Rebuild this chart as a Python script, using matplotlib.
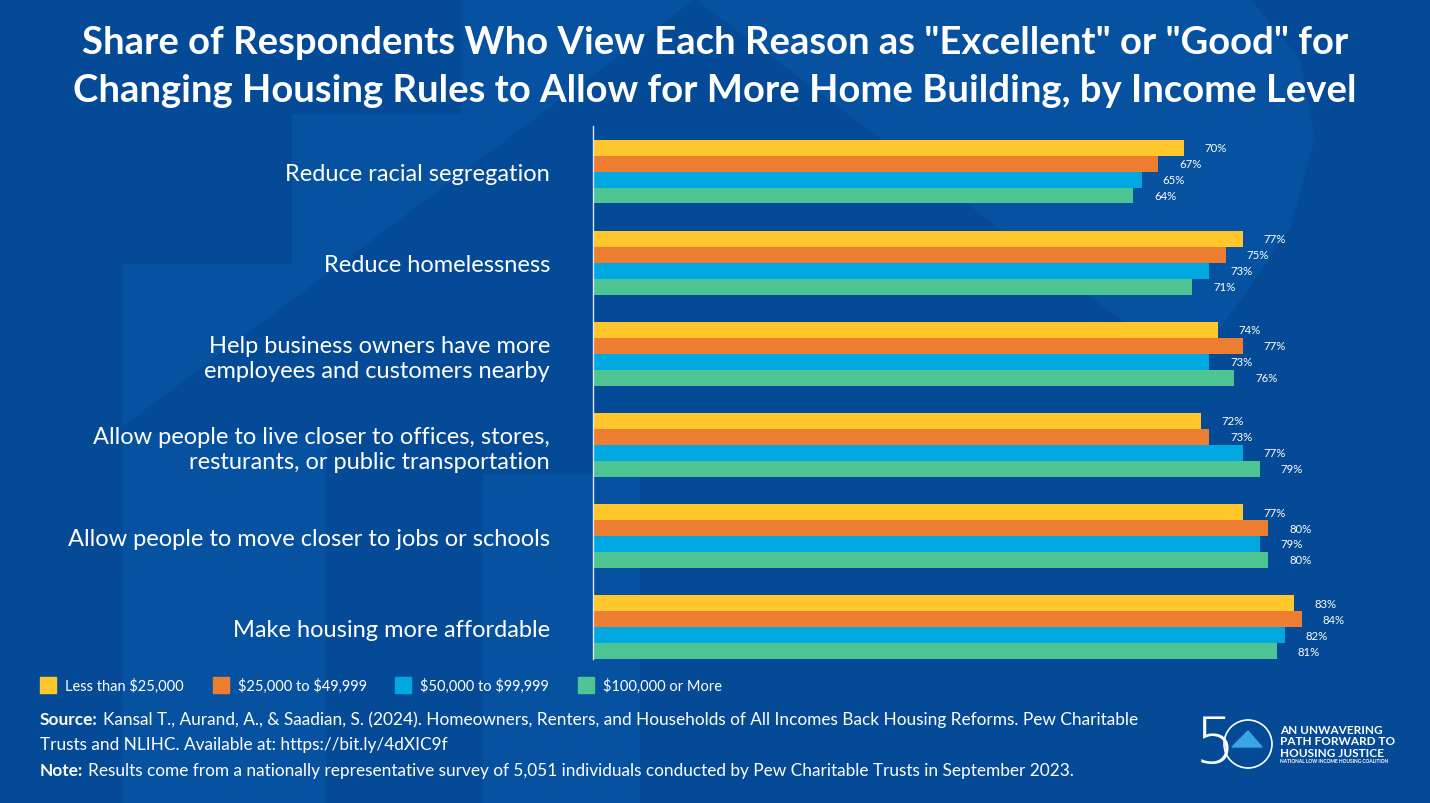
import matplotlib
matplotlib.use('Agg')
import matplotlib.pyplot as plt
from matplotlib.patches import Rectangle, Circle, Polygon
import numpy as np

BG = '#044a96'
LIGHT = '#0752a0'

CATEGORIES = ['Reduce racial segregation',
              'Reduce homelessness',
              'Help business owners have more\nemployees and customers nearby',
              'Allow people to live closer to offices, stores,\nresturants, or public transportation',
              'Allow people to move closer to jobs or schools',
              'Make housing more affordable']
SERIES = ['Less than \\$25,000', '\\$25,000 to \\$49,999', '\\$50,000 to \\$99,999', '\\$100,000 or More']
COLORS = ['#ffc72c', '#ed7d31', '#00a8e1', '#4dc593']

LESS_25K = [70, 77, 74, 72, 77, 83]
FROM_25K = [67, 75, 77, 73, 80, 84]
FROM_50K = [65, 73, 73, 77, 79, 82]
OVER_100K = [64, 71, 76, 79, 80, 81]
VALUES = [LESS_25K, FROM_25K, FROM_50K, OVER_100K]

fig = plt.figure(figsize=(14.3, 8.04), dpi=100)
fig.patch.set_facecolor(BG)

# faint house / pin shapes in the background (pixel coords)
bg = fig.add_axes([0, 0, 1, 1], zorder=-10)
bg.set_xlim(0, 1430)
bg.set_ylim(804, 0)
bg.axis('off')
bg.add_patch(Rectangle((0, 0), 1430, 804, color=BG))
bg.add_patch(Polygon([(462, 0), (695, 0), (122, 428), (122, 265), (292, 265),
                      (292, 115), (462, 115)], color=LIGHT, lw=0))
bg.add_patch(Polygon([(695, 0), (1250, 0), (1300, 60), (1315, 140), (1290, 230),
                      (1190, 373)], color=LIGHT, lw=0))
bg.add_patch(Rectangle((122, 434), 204, 370, color=LIGHT, lw=0))
bg.add_patch(Rectangle((483, 475), 157, 329, color=LIGHT, lw=0))

ax = fig.add_axes([593 / 1430, 1 - 660 / 804, (1400 - 593) / 1430, 533 / 804])
ax.set_facecolor('none')
y = np.arange(len(CATEGORIES))
h = 0.175
offsets = [-1.5 * h, -0.5 * h, 0.5 * h, 1.5 * h]
for vals, col, off, name in zip(VALUES, COLORS, offsets, SERIES):
    bars = ax.barh(y + off, vals, height=h, color=col, label=name)
    for b, v in zip(bars, vals):
        ax.annotate(f'{v}%', (b.get_width(), b.get_y() + h / 2), xytext=(15, 0),
                    textcoords='offset points', va='center', ha='left',
                    color='white', fontsize=8.2, family='Lato')

ax.set_xlim(0, (1400 - 593) / 8.44)
ax.set_ylim(5.35, -0.5)
ax.set_xticks([])
ax.set_yticks(y)
ax.set_yticklabels(CATEGORIES, fontsize=17, color='white', family='Lato', linespacing=1.25)
ax.tick_params(axis='y', length=0, pad=31)
for s in ['top', 'right', 'bottom']:
    ax.spines[s].set_visible(False)
ax.spines['left'].set_color('#dde6f2')
ax.spines['left'].set_linewidth(1)

fig.text(0.5, 1 - 67 / 804,
         'Share of Respondents Who View Each Reason as "Excellent" or "Good" for\n'
         'Changing Housing Rules to Allow for More Home Building, by Income Level',
         ha='center', va='center', color='white', fontsize=27.5, fontweight='bold',
         family='Lato', linespacing=1.5)

# legend
leg_x = [40, 213, 395, 578]
for lx, col, name in zip(leg_x, COLORS, SERIES):
    fig.patches.append(Rectangle((lx / 1430, 1 - 694 / 804), 16 / 1430, 16 / 804,
                                 transform=fig.transFigure, color=col))
    fig.text((lx + 25) / 1430, 1 - 686 / 804, name, color='white', fontsize=10.5,
             family='Lato', va='center')

# source and note, bold lead-in followed by regular text
fig.canvas.draw()
renderer = fig.canvas.get_renderer()


def lead_line(ypix, lead, rest):
    t = fig.text(40 / 1430, 1 - ypix / 804, lead, color='white', fontsize=12.4,
                 family='Lato', fontweight='bold', va='center')
    x1 = t.get_window_extent(renderer).x1
    fig.text((x1 + 5) / 1430, 1 - ypix / 804, rest, color='white', fontsize=12.4,
             family='Lato', va='center')


lead_line(720, 'Source:', 'Kansal T., Aurand, A., & Saadian, S. (2024). Homeowners, Renters, and '
          'Households of All Incomes Back Housing Reforms. Pew Charitable')
fig.text(40 / 1430, 1 - 745 / 804, 'Trusts and NLIHC. Available at: https://bit.ly/4dXIC9f',
         color='white', fontsize=12.4, family='Lato', va='center')
lead_line(771, 'Note:', 'Results come from a nationally representative survey of 5,051 individuals '
          'conducted by Pew Charitable Trusts in September 2023.')

# logo
fig.text(1195 / 1430, 1 - 745 / 804, '5', color='white', fontsize=46, family='DejaVu Sans',
         fontweight='ultralight', va='center')
bg.add_patch(Circle((1248, 745), 24, fill=False, ec='white', lw=1.2))
bg.add_patch(Polygon([(1232, 748), (1248, 732), (1262, 748)], color='#3aa6e0'))
fig.text(1280 / 1430, 1 - 742 / 804, 'AN UNWAVERING\nPATH FORWARD TO\nHOUSING JUSTICE',
         color='white', fontsize=8.5, fontweight='bold', family='Lato', va='center',
         linespacing=1.1)
fig.text(1280 / 1430, 1 - 762 / 804, 'NATIONAL LOW INCOME HOUSING COALITION',
         color='white', fontsize=3.5, fontweight='bold', family='Lato', va='center')

fig.savefig('out.png', dpi=100, facecolor=BG)
